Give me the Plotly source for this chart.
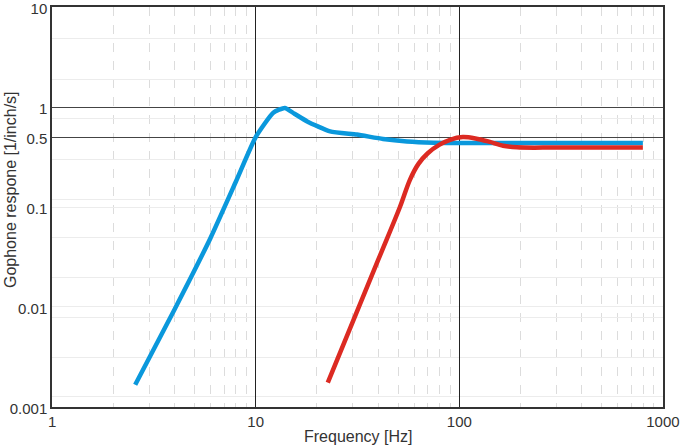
import plotly.graph_objects as go

# Gophone response curves (frequency in Hz, response in 1/inch/s)
blue_f = [2.56, 4.0, 6.0, 8.0, 10.0, 12.2, 13.9, 15.5, 17.9, 23.2, 31.4, 42.2, 55.3, 75, 100, 200, 400, 797]
blue_r = [0.00167, 0.0095, 0.049, 0.18, 0.5, 0.877, 0.98, 0.857, 0.718, 0.57, 0.53, 0.479, 0.453, 0.44, 0.436, 0.436, 0.436, 0.436]

red_f = [22.6, 40, 51.1, 57.2, 63, 70, 80, 90, 104, 120, 140, 164, 192, 300, 797]
red_r = [0.00175, 0.0297, 0.1, 0.187, 0.27, 0.345, 0.42, 0.47, 0.5, 0.485, 0.45, 0.41, 0.395, 0.393, 0.393]

x_ticks = [1, 10, 100, 1000]
y_ticks = [0.001, 0.01, 0.1, 0.5, 1, 10]
y_ticktext = ["0.001", "0.01", "0.1", "0.5", "1", "10"]
y_dark_grid = [0.5, 1]
x_minor = [m * d for d in (1, 10, 100) for m in range(2, 10)]
y_minor = [0.00126, 0.0031, 0.0078, 0.01, 0.0195, 0.049, 0.1, 0.12, 0.30, 0.76, 1.87, 4.8]

FONT = "Liberation Sans, Arial, sans-serif"

fig = go.Figure()
fig.add_trace(go.Scatter(x=blue_f, y=blue_r, mode="lines",
                         line=dict(color="#0a98dc", width=4.5, shape="spline", smoothing=0.5),
                         showlegend=False))
fig.add_trace(go.Scatter(x=red_f, y=red_r, mode="lines",
                         line=dict(color="#dc2a22", width=4.5, shape="spline", smoothing=0.9),
                         showlegend=False))

fig.update_layout(
    width=685, height=446,
    margin=dict(l=52, r=22, t=7, b=39, autoexpand=False),
    paper_bgcolor="white", plot_bgcolor="white",
    font=dict(family=FONT, size=15, color="#333"),
    xaxis=dict(
        type="log", range=[-0.0003, 3.0003], automargin=False,
        tickvals=x_ticks, ticktext=[str(v) for v in x_ticks],
        ticklabeloverflow="allow",
        showgrid=True, gridcolor="#222", gridwidth=1,
        showline=True, linecolor="#333", linewidth=1.5, mirror=True,
        ticks="", ticklen=0,
        zeroline=False,
        minor=dict(tickvals=x_minor, showgrid=True, gridcolor="#dcdcdc",
                   griddash="dash", gridwidth=1, ticklen=0),
    ),
    yaxis=dict(
        type="log", range=[-3.0003, 1.0003], automargin=False,
        tickvals=y_ticks, ticktext=y_ticktext,
        ticklabeloverflow="allow", ticklabelshift=2,
        showgrid=False,
        showline=True, linecolor="#333", linewidth=1.5, mirror=True,
        ticks="", ticklen=0,
        zeroline=False,
        minor=dict(tickvals=y_minor, showgrid=True, gridcolor="#ececec",
                   gridwidth=1, ticklen=0),
    ),
    yaxis2=dict(
        type="log", range=[-3.0003, 1.0003], overlaying="y", side="left", automargin=False,
        tickvals=y_dark_grid, showticklabels=False,
        showgrid=True, gridcolor="#444", gridwidth=1,
        showline=False, zeroline=False, ticks="",
    ),
    annotations=[
        dict(text="Frequency [Hz]", xref="paper", yref="paper", x=0.5, y=-0.0725,
             xanchor="center", yanchor="middle", showarrow=False,
             font=dict(size=16, color="#333")),
        dict(text="Gophone respone [1/inch/s]", xref="paper", yref="paper",
             x=-0.0687, y=0.5425, textangle=-90,
             xanchor="center", yanchor="middle", showarrow=False,
             font=dict(size=16, color="#333")),
    ],
)
# invisible trace to activate the overlay grid axis
fig.add_trace(go.Scatter(x=[1], y=[1], yaxis="y2", mode="markers",
                         marker=dict(opacity=0), hoverinfo="skip", showlegend=False))

fig.write_html("out.html", config={"displayModeBar": False},
               post_script="document.body.style.margin='0';document.body.style.overflow='hidden';")
